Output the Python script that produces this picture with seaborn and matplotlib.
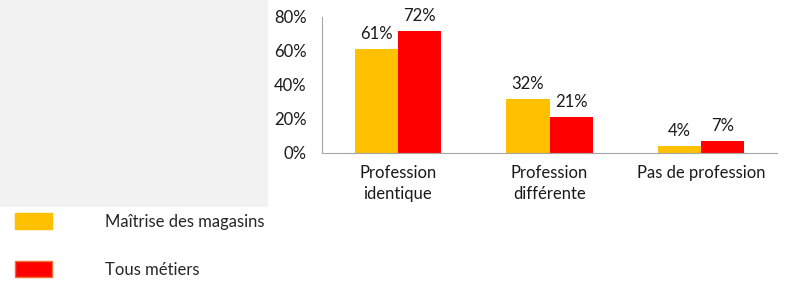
import numpy as np
import pandas as pd
import matplotlib
matplotlib.use('Agg')
import matplotlib.pyplot as plt
import seaborn as sns
from matplotlib.patches import Rectangle, Patch
from matplotlib.ticker import FixedLocator

categories = ['Profession\nidentique', 'Profession\ndifférente', 'Pas de profession']
series = ['Maîtrise des magasins', 'Tous métiers']
maitrise = [61, 32, 4]
tous = [72, 21, 7]
yticks = [0, 20, 40, 60, 80]

colors = ['#FFC000', '#FF0000']
edges = ['#FFC000', '#F07030']

df = pd.DataFrame({
    'cat': categories * 2,
    'serie': [series[0]] * 3 + [series[1]] * 3,
    'val': maitrise + tous,
})

sns.set_style('white')
plt.rcParams['font.family'] = ['Lato', 'DejaVu Sans']

fig = plt.figure(figsize=(7.86, 2.84), dpi=100)
# grey background panel on the left
fig.patches.append(Rectangle((0, 0.271), 0.341, 0.729, transform=fig.transFigure,
                             facecolor='#F2F2F2', edgecolor='none', zorder=0))

ax = fig.add_axes([0.4097, 0.4613, 0.5789, 0.4789])
sns.barplot(data=df, x='cat', y='val', hue='serie', order=categories,
            hue_order=series, palette=colors, width=0.57, saturation=1,
            linewidth=0, ax=ax, legend=False)

for cont in ax.containers:
    ax.bar_label(cont, labels=[f'{v:.0f}%' for v in cont.datavalues],
                 padding=5, fontsize=12, color='#1a1a1a')

ax.set_ylim(0, 80)
ax.set_xlim(-0.5, 2.5)
ax.set_yticks(yticks)
ax.set_yticklabels([f'{t}%' for t in yticks], fontsize=12, color='#1a1a1a')
ax.set_xlabel('')
ax.set_ylabel('')
ax.tick_params(axis='x', which='major', length=0, labelsize=12, labelcolor='#1a1a1a', pad=9)
for lab in ax.get_xticklabels():
    lab.set_linespacing(1.35)
ax.xaxis.set_minor_locator(FixedLocator([-0.5, 0.5, 1.5, 2.5]))
ax.tick_params(axis='x', which='minor', length=5, color='#A6A6A6', direction='out')
ax.tick_params(axis='y', length=5, color='#A6A6A6', direction='out', pad=6)
for s in ['top', 'right']:
    ax.spines[s].set_visible(False)
for s in ['left', 'bottom']:
    ax.spines[s].set_color('#A6A6A6')
ax.patch.set_alpha(0)

handles = [Patch(facecolor=c, edgecolor=e, linewidth=1) for c, e in zip(colors, edges)]
fig.legend(handles, series, loc='upper left', bbox_to_anchor=(15 / 786, 1 - 213 / 284),
           frameon=False, fontsize=12, handlelength=2.2, handleheight=1.1,
           handletextpad=3.2, labelspacing=1.9, borderpad=0, borderaxespad=0)

fig.savefig('out.png', dpi=100)
